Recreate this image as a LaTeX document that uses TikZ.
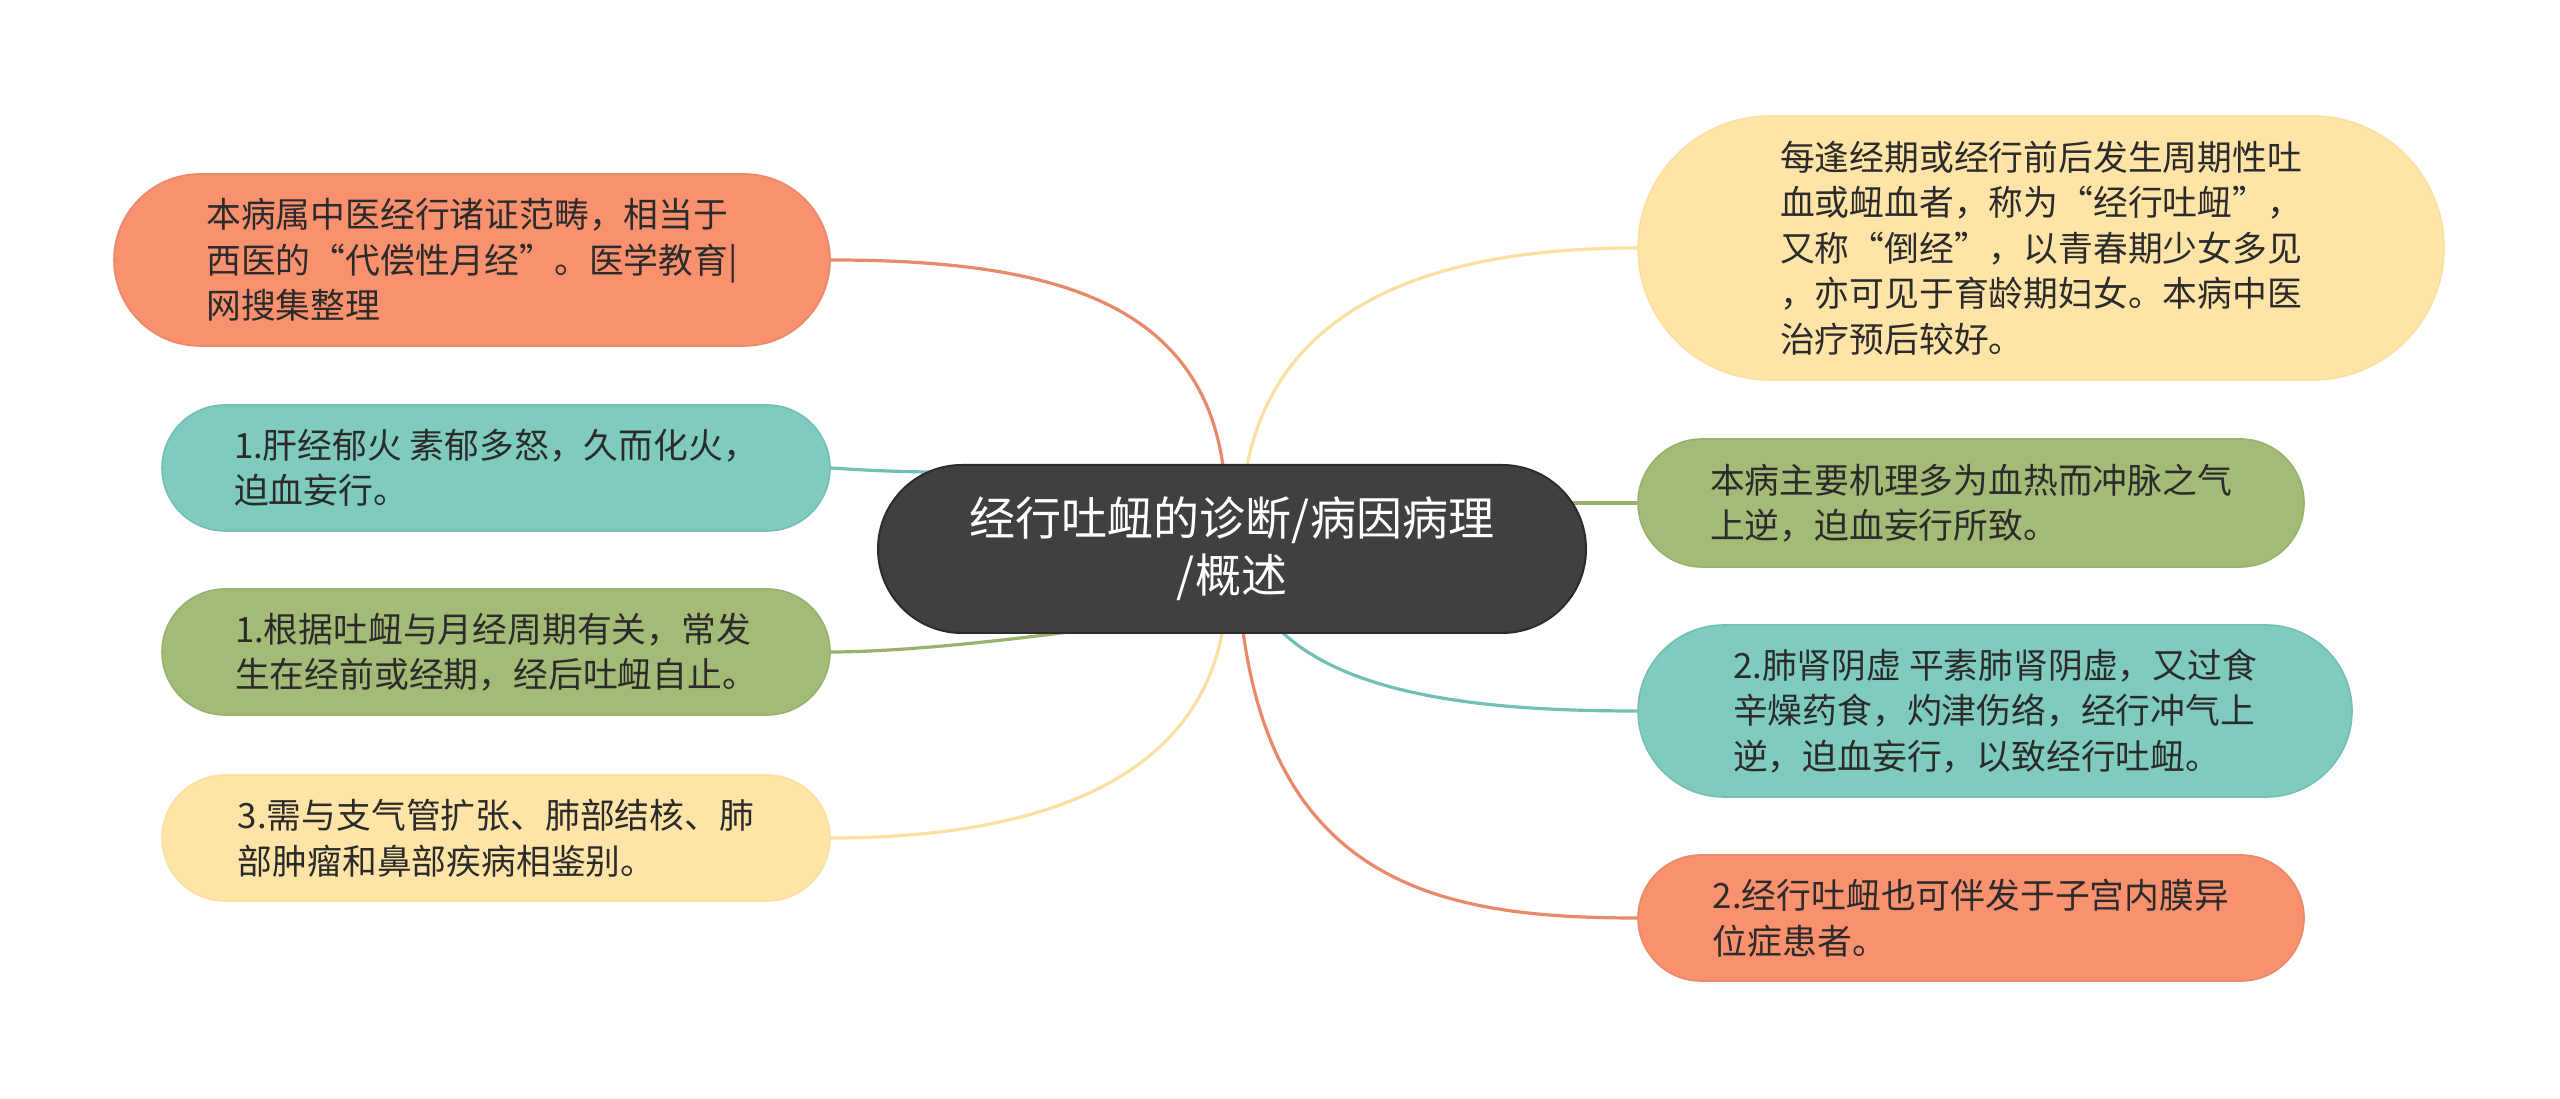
\documentclass[tikz,border=0pt]{standalone}
\usepackage{fontspec}
\setmainfont{Noto Sans CJK SC}
\usetikzlibrary{shapes.misc,calc,backgrounds}
\definecolor{hubfill}{HTML}{404040}
\definecolor{hubline}{HTML}{2B2B2B}
\definecolor{leaftext}{HTML}{2B2B2B}
\definecolor{orangefill}{HTML}{FA916E}
\definecolor{orangeline}{HTML}{E8896A}
\definecolor{tealfill}{HTML}{7FCBBE}
\definecolor{tealline}{HTML}{72C0B3}
\definecolor{greenfill}{HTML}{A3BB76}
\definecolor{greenline}{HTML}{98B26B}
\definecolor{yellowfill}{HTML}{FFE4A7}
\definecolor{yellowline}{HTML}{FBDFA0}

\begin{document}
\begin{tikzpicture}[line cap=round,line join=round,x=0.25pt,y=-0.25pt,
  hub/.style={rounded rectangle,fill=hubfill,draw=hubline,line width=0.5pt,text=white,
    font=\fontsize{11.5}{14.3}\selectfont,align=center,minimum width=177pt,minimum height=42pt,inner sep=0pt},
  leaf/.style={rounded rectangle,line width=0.4pt,text=leaftext,
    font=\fontsize{8.7}{11.4}\selectfont,align=left,inner sep=0pt},
  orangeleaf/.style={leaf,fill=orangefill,draw=orangeline},
  tealleaf/.style={leaf,fill=tealfill,draw=tealline},
  greenleaf/.style={leaf,fill=greenfill,draw=greenline},
  yellowleaf/.style={leaf,fill=yellowfill,draw=yellowline},
  link/.style={line width=0.8pt}]
\useasboundingbox (0,0) rectangle (2560,1099);

\node[hub] (hub) at (1232,549) {经行吐衄的诊断/病因病理\\/概述};

\node[orangeleaf,minimum width=179pt,minimum height=43pt] (cause) at (472,260)
  {本病属中医经行诸证范畴，相当于\\西医的“代偿性月经”。医学教育|\\网搜集整理};
\node[tealleaf,minimum width=167pt,minimum height=31.5pt] (liver) at (496,468)
  {1.肝经郁火 素郁多怒，久而化火，\\迫血妄行。};
\node[greenleaf,minimum width=167pt,minimum height=31.5pt] (diag) at (496,652)
  {1.根据吐衄与月经周期有关，常发\\生在经前或经期，经后吐衄自止。};
\node[yellowleaf,minimum width=167pt,minimum height=31.5pt] (diff) at (496,838)
  {3.需与支气管扩张、肺部结核、肺\\部肿瘤和鼻部疾病相鉴别。};

\node[yellowleaf,minimum width=201.5pt,minimum height=66pt] (intro) at (2041,248)
  {每逢经期或经行前后发生周期性吐\\血或衄血者，称为“经行吐衄”，\\又称“倒经”，以青春期少女多见\\，亦可见于育龄期妇女。本病中医\\治疗预后较好。};
\node[greenleaf,minimum width=166.5pt,minimum height=32pt] (mech) at (1971,503)
  {本病主要机理多为血热而冲脉之气\\上逆，迫血妄行所致。};
\node[tealleaf,minimum width=178.5pt,minimum height=43pt] (lung) at (1995,711)
  {2.肺肾阴虚 平素肺肾阴虚，又过食\\辛燥药食，灼津伤络，经行冲气上\\逆，迫血妄行，以致经行吐衄。};
\node[orangeleaf,minimum width=166.5pt,minimum height=31.5pt] (endo) at (1971,918)
  {2.经行吐衄也可伴发于子宫内膜异\\位症患者。};

\begin{scope}[on background layer]
\fill[white] (0,0) rectangle (2560,1099);
\draw[link,orangeline] ($(hub.north)+(-7,20)$) .. controls (1210,300) and (1050,260) .. (cause.east);
\draw[link,tealline] ($(hub.166)+(20,0)$) .. controls (880,471) .. (liver.east);
\draw[link,greenline] ($(hub.south)+(-40,-20)$) .. controls (1030,640) and (900,652) .. (diag.east);
\draw[link,yellowline] ($(hub.south)+(-7,-20)$) .. controls (1205,790) and (1020,838) .. (diff.east);
\draw[link,yellowline] ($(hub.north)+(12,20)$) .. controls (1270,290) and (1460,248) .. (intro.west);
\draw[link,greenline] ($(hub.east |- mech.west)+(-20,0)$) -- (mech.west);
\draw[link,tealline] ($(hub.south)+(34,-20)$) .. controls (1330,700) and (1500,711) .. (lung.west);
\draw[link,orangeline] ($(hub.south)+(9,-20)$) .. controls (1270,890) and (1450,918) .. (endo.west);
\end{scope}
\end{tikzpicture}
\end{document}
